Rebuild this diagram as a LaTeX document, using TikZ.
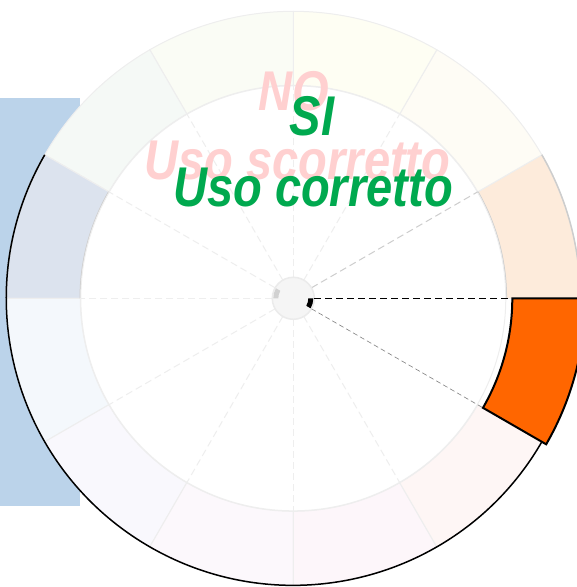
\documentclass[tikz,border=0pt]{standalone}
\usepackage{fontspec}
\newfontfamily\narrowsans[FakeStretch=0.84]{Liberation Sans}
\definecolor{pinktxt}{HTML}{FFD0D0}
\definecolor{greentxt}{HTML}{00A94F}
\definecolor{bluebox}{HTML}{BBD3EA}
\definecolor{orangehl}{HTML}{FF6600}
\definecolor{segA}{HTML}{FDEBDB}
\definecolor{segB}{HTML}{FEFCF5}
\definecolor{segC}{HTML}{FEFEF3}
\definecolor{segD}{HTML}{FAFCF5}
\definecolor{segE}{HTML}{F5F9F6}
\definecolor{segF}{HTML}{DCE3EE}
\definecolor{segG}{HTML}{F4F8FC}
\definecolor{segH}{HTML}{F9F8FD}
\definecolor{segI}{HTML}{FCF8FC}
\definecolor{segJ}{HTML}{FDF6FA}
\definecolor{segK}{HTML}{FEF6F5}
\definecolor{faint}{HTML}{EEEEEE}
\definecolor{midgrey}{HTML}{CDCDCD}
\tikzset{
  bigtext/.style={font=\narrowsans\bfseries\itshape\fontsize{56}{60}\selectfont, inner sep=0pt, anchor=base},
  radial/.style={draw=faint, line width=1pt, dash pattern=on 7pt off 4pt},
}
\newcommand{\ringseg}[5]{% start, end, inner, outer, colour
  \fill[#5, draw=faint, line width=1pt] (#1:#3) -- (#1:#4) arc[start angle=#1, end angle=#2, radius=#4] -- (#2:#3) arc[start angle=#2, end angle=#1, radius=#3] -- cycle;}
\begin{document}
\begin{tikzpicture}[x=1pt,y=1pt]
\useasboundingbox (-293.3,-288.7) rectangle (283.7,298.3);
\clip (-293.3,-288.7) rectangle (283.7,298.3);
% blue box behind the wheel
\fill[bluebox] (-293.3,200.3) rectangle (-213.3,-207.7);
% outer ring segments
\ringseg{0}{30}{213}{287}{segA}
\ringseg{30}{60}{213}{287}{segB}
\ringseg{60}{90}{213}{287}{segC}
\ringseg{90}{120}{213}{287}{segD}
\ringseg{120}{150}{213}{287}{segE}
\ringseg{150}{180}{213}{287}{segF}
\ringseg{180}{210}{213}{287}{segG}
\ringseg{210}{240}{213}{287}{segH}
\ringseg{240}{270}{213}{287}{segI}
\ringseg{270}{300}{213}{287}{segJ}
\ringseg{300}{330}{213}{287}{segK}
% grey arcs of the two related segments
\draw[midgrey, line width=1.5pt] (0:287) arc[start angle=0, end angle=30, radius=287];
\draw[midgrey, line width=1.5pt] (0:213) arc[start angle=0, end angle=30, radius=213];
\draw[midgrey, line width=1.5pt] (150:287) arc[start angle=150, end angle=180, radius=287];
\draw[midgrey, line width=1.5pt] (150:213) arc[start angle=150, end angle=180, radius=213];
% inner white disc
\fill[white, draw=faint, line width=1pt] (0,0) circle[radius=212.5];
% dashed radials
\foreach \a in {60,90,...,300} {
  \coordinate (r\a a) at (\a:21);
  \coordinate (r\a b) at (\a:213);
  \draw[radial] (r\a a) -- (r\a b);
}
\coordinate (r30a) at (30:21);
\coordinate (r30b) at (30:213);
\draw[radial, draw=midgrey] (r30a) -- (r30b);
% highlighted orange segment
\coordinate (o1) at (0:219);
\coordinate (o2) at (-30:219);
\filldraw[fill=orangehl, draw=black, line width=2pt, line join=miter] (0:219) -- (0:292) arc[start angle=0, end angle=-30, radius=292] -- (-30:219) arc[start angle=-30, end angle=0, radius=219] -- cycle;
% black half circle
\draw[black, line width=1.5pt] (-30:287) arc[start angle=-30, end angle=-210, radius=287];
% centre hub
\node[circle, minimum size=42pt, inner sep=0pt, fill=black!4, draw=black!8, line width=1.5pt] (hub) at (0,0) {};
\fill[black!18] (150:15) -- (150:20) arc[start angle=150, end angle=180, radius=20] -- (180:15) arc[start angle=180, end angle=150, radius=15] -- cycle;
\fill[black] (-30:15) -- (-30:20) arc[start angle=-30, end angle=0, radius=20] -- (0:15) arc[start angle=0, end angle=-30, radius=15] -- cycle;
% lines to the highlighted segment
\coordinate (c0) at (0:21);
\coordinate (c30) at (-30:21);
\draw[black, line width=1.2pt, dash pattern=on 7pt off 4pt] (c0) -- (o1);
\draw[black!50, line width=0.6pt, dash pattern=on 5pt off 3pt] (c30) -- (o2);
% texts
\node[bigtext, text=pinktxt] (no) at (0.7,188.3) {NO};
\node[bigtext, text=pinktxt] (wrong) at (4.2,119) {Uso scorretto};
\node[bigtext, text=greentxt] (si) at (18.7,163.3) {SI};
\node[bigtext, text=greentxt] (right) at (19.7,91.6) {Uso corretto};
\end{tikzpicture}
\end{document}
